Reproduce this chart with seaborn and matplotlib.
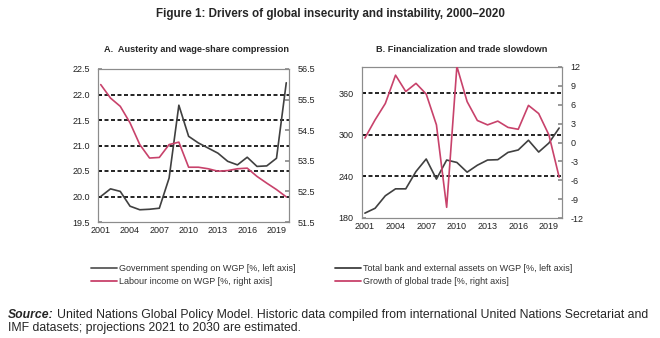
import matplotlib
matplotlib.use("Agg")
import matplotlib.pyplot as plt
import seaborn as sns
import pandas as pd
import numpy as np
from matplotlib.lines import Line2D

sns.set_theme(style="white")
plt.rcParams['font.family'] = ['Liberation Sans', 'DejaVu Sans']

years = list(range(2001, 2021))
gov_spending = [20.0, 20.15, 20.10, 19.81, 19.74, 19.75, 19.77, 20.36, 21.79, 21.18,
                21.05, 20.95, 20.85, 20.69, 20.62, 20.77, 20.59, 20.60, 20.75, 22.23]
labour_income = [55.99, 55.55, 55.28, 54.74, 54.03, 53.59, 53.61, 54.03, 54.11, 53.29,
                 53.29, 53.24, 53.16, 53.18, 53.24, 53.26, 52.99, 52.77, 52.56, 52.32]
bank_assets = [187, 194, 212, 222, 222, 247, 265, 236, 263.5, 260,
               246, 256, 263.5, 264, 274.5, 278, 292, 275, 288, 309.6]
trade_growth = [0.7, 3.6, 6.2, 10.7, 8.1, 9.4, 7.7, 2.8, -10.3, 12.1,
                6.5, 3.5, 2.8, 3.4, 2.4, 2.1, 5.9, 4.6, 1.2, -5.5]

xtick_labels = [2001, 2004, 2007, 2010, 2013, 2016, 2019]
a_left_ticks = [19.5, 20.0, 20.5, 21.0, 21.5, 22.0, 22.5]
a_right_ticks = [51.5, 52.5, 53.5, 54.5, 55.5, 56.5]
b_left_ticks = [180, 240, 300, 360]
b_right_ticks = [-12, -9, -6, -3, 0, 3, 6, 9, 12]

labels = ["Government spending on WGP [%, left axis]",
          "Labour income on WGP [%, right axis]",
          "Total bank and external assets on WGP [%, left axis]",
          "Growth of global trade [%, right axis]"]

DARK = "#404040"
RED = "#C8426B"
SPINE = "#8c8c8c"
FS = 6.5

df = pd.DataFrame({"year": years, "gov": gov_spending, "lab": labour_income,
                   "bank": bank_assets, "trade": trade_growth})

fig = plt.figure(figsize=(6.6, 3.38), dpi=100)
W, H = 660, 338

def add_ax(l, t, r, b):
    return fig.add_axes([l / W, 1 - b / H, (r - l) / W, (b - t) / H])

axA = add_ax(98, 69, 289, 222)
axB = add_ax(362, 67, 562, 218)

grid_kw = dict(color="black", lw=1.2, ls=(0, (2.4, 1.5)), zorder=1)

def style(ax, tw, lticks, rticks, llim, rlim, gridvals, title, tx):
    ax.set_xlim(2001 - 0.28, 2020 + 0.28)
    ax.set_ylim(*llim)
    tw.set_ylim(*rlim)
    ax.set_yticks(lticks)
    tw.set_yticks(rticks)
    ax.set_yticklabels([f"{v:.1f}" if isinstance(v, float) else str(v) for v in lticks])
    tw.set_yticklabels([f"{v:.1f}" if isinstance(v, float) else str(v) for v in rticks])
    ax.set_xticks(xtick_labels)
    ax.set_xticklabels([str(v) for v in xtick_labels])
    ax.set_xticks([y + 0.5 for y in range(2003, 2020, 3)], minor=True)
    ax.tick_params(axis="x", which="major", length=0, pad=3, labelsize=FS, colors="#222222")
    ax.tick_params(axis="x", which="minor", direction="in", length=3, color=SPINE, width=0.7)
    ax.tick_params(axis="y", which="major", direction="in", length=3, pad=6, labelsize=FS,
                   colors="#222222", color=SPINE)
    tw.tick_params(axis="y", which="major", direction="in", length=3, pad=6, labelsize=FS,
                   colors="#222222", color=SPINE)
    for a in (ax, tw):
        for s in a.spines.values():
            s.set_color(SPINE)
            s.set_linewidth(0.8)
        a.set_xlabel("")
        a.set_ylabel("")
        a.grid(False)
    for g in gridvals:
        ax.axhline(g, **grid_kw)
    fig.text(tx, 1 - 50 / H, title, ha="center", va="center", fontsize=6.6, fontweight="bold")

# Panel A
twA = axA.twinx()
sns.lineplot(data=df, x="year", y="gov", ax=axA, color=DARK, lw=1.2, zorder=3)
sns.lineplot(data=df, x="year", y="lab", ax=twA, color=RED, lw=1.2, zorder=3)
style(axA, twA, a_left_ticks, a_right_ticks, (19.5, 22.5), (51.5, 56.5),
      [20.0, 20.5, 21.0, 21.5, 22.0, 22.5], "A.  Austerity and wage-share compression", 196 / W)

# Panel B
twB = axB.twinx()
sns.lineplot(data=df, x="year", y="bank", ax=axB, color=DARK, lw=1.2, zorder=3)
sns.lineplot(data=df, x="year", y="trade", ax=twB, color=RED, lw=1.2, zorder=3)
style(axB, twB, b_left_ticks, b_right_ticks, (180, 397.5), (-12, 12),
      [240, 300, 360], "B. Financialization and trade slowdown", 462 / W)

fig.text(0.5, 1 - 14 / H, "Figure 1: Drivers of global insecurity and instability, 2000\u20132020",
         ha="center", va="center", fontsize=8.4, fontweight="bold")

# Legends
hA = [Line2D([], [], color="#595959", lw=1.3), Line2D([], [], color=RED, lw=1.3)]
hB = [Line2D([], [], color=DARK, lw=1.3), Line2D([], [], color=RED, lw=1.3)]
leg_kw = dict(frameon=False, handlelength=2.9, handletextpad=0.25,
              labelspacing=0.45, loc="upper left", borderaxespad=0, borderpad=0,
              fontsize=6.5, labelcolor="#333333")
fig.legend(hA, labels[:2], bbox_to_anchor=(91 / W, 1 - 264 / H), **leg_kw)
fig.legend(hB, labels[2:], bbox_to_anchor=(335 / W, 1 - 264 / H), **leg_kw)

# Source
renderer = fig.canvas.get_renderer()
SFS = 8.85
t1 = fig.text(8 / W, 1 - 318 / H, "Source:", fontsize=SFS, fontweight="bold", fontstyle="italic",
              va="baseline", ha="left")
bb = t1.get_window_extent(renderer=renderer)
fig.text(bb.x1 / W + 3 / W, 1 - 318 / H,
         "United Nations Global Policy Model. Historic data compiled from international United Nations Secretariat and",
         fontsize=SFS, va="baseline", ha="left")
fig.text(8 / W, 1 - 331 / H, "IMF datasets; projections 2021 to 2030 are estimated.",
         fontsize=SFS, va="baseline", ha="left")

fig.savefig("out.png", dpi=100)
